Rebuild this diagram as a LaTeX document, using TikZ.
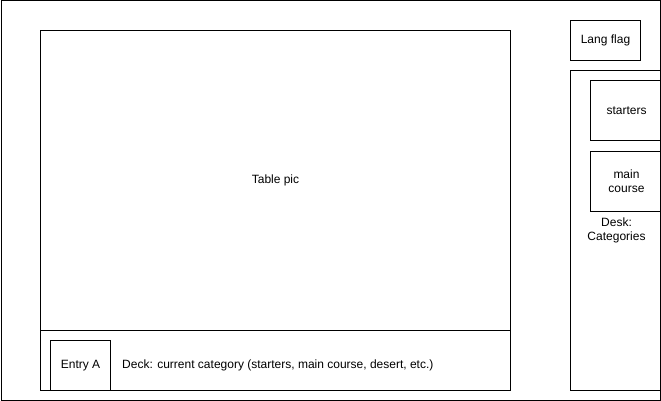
\documentclass[tikz,border=0pt]{standalone}
\usepackage{fontspec}
\setmainfont{Liberation Sans}
\usetikzlibrary{positioning}
\tikzstyle{box} = [rectangle, draw=black, line width=1pt, inner sep=0pt, anchor=north west, align=center, font=\fontsize{12}{14}\selectfont]
\tikzstyle{label} = [inner sep=0pt, align=center, font=\fontsize{12}{14}\selectfont]

\begin{document}
\begin{tikzpicture}[x=1pt, y=-1pt]
        \useasboundingbox (0,0) rectangle (661,401);
        \clip (0,0) rectangle (661,401);
        \node (frame) [box, minimum width=659.5pt, minimum height=399pt] at (0.5,0.5) {};
        \node (table) [box, minimum width=470pt, minimum height=300pt] at (40,30) {Table pic};
        \node (deck) [box, minimum width=470pt, minimum height=60pt] at (40,330) {};
        \node (entry) [box, minimum width=60pt, minimum height=50pt] at (50,340) {Entry A};
        \node (decktext) [label, right=11pt of entry] {Deck: current category (starters, main course, desert, etc.)};
        \node (flag) [box, minimum width=70pt, minimum height=40pt] at (570,20) {Lang flag};
        \node (desk) [box, minimum width=92pt, minimum height=320pt] at (570,70) {Desk:\\Categories};
        \node (starters) [box, minimum width=72pt, minimum height=60pt] at (590,80) {starters};
        \node (main) [box, minimum width=72pt, minimum height=60pt, below=10pt of starters.south west, anchor=north west] {main\\course};
    \end{tikzpicture}
\end{document}
